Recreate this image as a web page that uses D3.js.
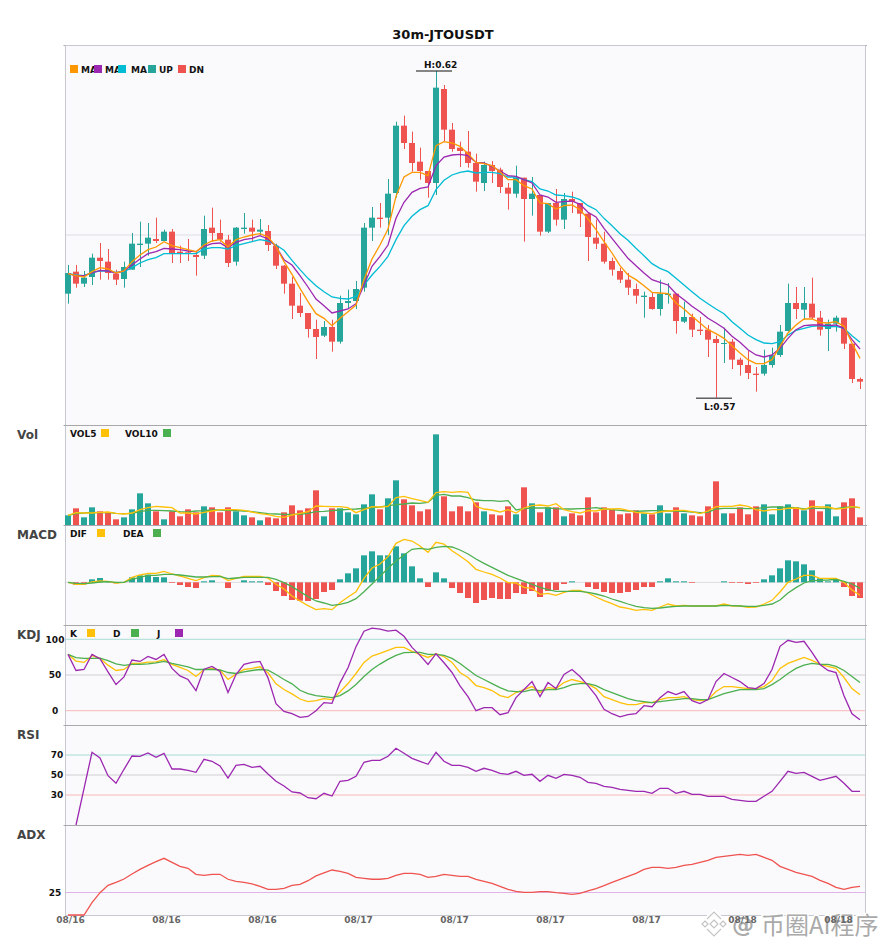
<!DOCTYPE html>
<html>
<head>
<meta charset="utf-8">
<script src="https://cdn.jsdelivr.net/npm/d3@7"></script>
<style>
html, body { margin: 0; padding: 0; background: #fff; }
text { font-family: "DejaVu Sans", sans-serif; font-weight: bold; }
</style>
</head>
<body>
<script>
// prices are kept in units of 0.0001 USDT
const open = [5866,5899,5881,5891,5920,5914,5896,5888,5902,5939,5941,5948,5945,5959,5929,5928,5924,5923,5965,5957,5947,5914,5963,5965,5959,5960,5938,5908,5881,5848,5837,5813,5803,5816,5794,5852,5855,5875,5965,5980,5980,6017,6118,6092,6064,6050,6032,6173,6112,6085,6079,6062,6032,6059,6052,6025,6016,6040,6008,6014,5959,6002,5977,6008,6002,5986,5950,5941,5915,5900,5887,5873,5861,5861,5843,5864,5866,5824,5831,5812,5812,5798,5791,5794,5767,5759,5746,5746,5759,5774,5810,5852,5842,5851,5830,5813,5821,5830,5791,5738]
const close = [5897,5881,5890,5920,5915,5897,5887,5906,5941,5941,5950,5945,5959,5927,5927,5927,5921,5963,5957,5947,5912,5965,5965,5959,5962,5939,5908,5881,5848,5837,5813,5801,5816,5794,5852,5855,5873,5965,5980,5978,6016,6118,6092,6062,6050,6032,6175,6112,6083,6080,6062,6034,6059,6050,6026,6016,6040,6008,6016,5959,6002,5977,6008,6004,5986,5951,5941,5914,5902,5887,5875,5863,5863,5843,5866,5866,5825,5831,5812,5810,5797,5792,5792,5767,5759,5747,5744,5759,5774,5809,5852,5843,5852,5830,5812,5821,5830,5791,5738,5734]
const high = [5909,5909,5900,5926,5942,5933,5902,5914,5957,5974,5972,5980,5962,5963,5938,5948,5929,5983,5995,5977,5954,5966,5987,5977,5978,5969,5941,5909,5891,5867,5837,5827,5825,5827,5863,5872,5885,5972,5996,6002,6038,6124,6133,6109,6085,6050,6200,6179,6122,6094,6110,6076,6064,6065,6055,6032,6058,6040,6041,6014,6002,6023,6017,6019,6002,5987,5977,5959,5920,5905,5897,5881,5869,5867,5887,5882,5866,5854,5836,5831,5819,5803,5815,5798,5770,5780,5756,5782,5785,5819,5881,5876,5876,5890,5840,5827,5833,5830,5791,5740]
const low = [5851,5875,5876,5879,5887,5887,5879,5875,5902,5906,5923,5942,5945,5912,5912,5915,5893,5918,5944,5944,5906,5908,5956,5944,5954,5930,5903,5866,5828,5831,5800,5768,5801,5779,5791,5843,5843,5869,5945,5965,5954,6010,6083,6049,6037,6010,6014,6095,6079,6056,6055,6019,6020,6032,6017,5992,6010,5944,5983,5953,5957,5968,5963,5987,5966,5915,5933,5911,5893,5882,5864,5851,5830,5842,5833,5851,5806,5822,5801,5804,5771,5710,5762,5753,5743,5738,5719,5743,5755,5771,5809,5828,5827,5828,5803,5780,5809,5783,5732,5723]
const ma5 = [5896,5893,5891,5899,5905,5903,5897,5900,5914,5924,5932,5936,5944,5938,5935,5932,5929,5939,5945,5947,5936,5947,5951,5954,5956,5951,5937,5914,5895,5874,5854,5836,5829,5818,5829,5839,5849,5887,5918,5939,5963,6012,6041,6048,6048,6043,6088,6094,6092,6087,6076,6063,6061,6058,6049,6037,6037,6028,6023,6002,6001,5993,5998,5999,5992,5978,5962,5944,5927,5908,5894,5887,5878,5868,5867,5866,5852,5843,5832,5822,5812,5806,5799,5788,5777,5767,5761,5761,5767,5787,5807,5819,5828,5828,5823,5822,5824,5817,5792,5769]
const ma10 = [5896,5893,5893,5897,5901,5900,5897,5900,5909,5918,5926,5929,5934,5933,5932,5930,5929,5937,5941,5942,5935,5943,5947,5949,5953,5948,5937,5917,5909,5893,5876,5858,5848,5837,5840,5843,5851,5879,5907,5922,5939,5979,6003,6018,6024,6026,6058,6071,6074,6075,6073,6063,6062,6057,6050,6043,6042,6037,6032,6014,6011,6003,6004,6005,6000,5988,5981,5964,5949,5934,5919,5908,5897,5887,5883,5879,5866,5857,5847,5839,5829,5822,5814,5802,5793,5782,5774,5771,5774,5784,5799,5812,5818,5819,5819,5818,5819,5814,5797,5783]
const ma20 = [5896,5894,5893,5898,5900,5900,5898,5899,5905,5912,5917,5920,5926,5926,5926,5926,5926,5933,5935,5935,5933,5938,5941,5944,5947,5945,5939,5931,5916,5902,5889,5878,5869,5861,5859,5858,5862,5879,5894,5907,5922,5947,5968,5982,5992,5998,6022,6036,6044,6048,6050,6047,6048,6048,6046,6041,6041,6037,6034,6023,6020,6014,6013,6011,6007,5998,5992,5979,5968,5956,5946,5934,5923,5911,5904,5899,5889,5879,5869,5859,5851,5843,5836,5824,5814,5804,5797,5792,5791,5794,5804,5811,5814,5817,5818,5816,5817,5814,5803,5793]
const volume = [29,50,23,53,41,38,17,23,47,95,65,41,17,41,26,47,38,56,53,38,53,41,29,23,14,23,20,38,59,44,50,104,26,50,50,38,32,62,92,47,80,134,77,59,41,47,272,86,41,56,41,68,41,32,29,56,32,113,65,38,53,53,26,35,29,83,38,53,47,32,35,44,35,32,59,35,53,35,29,26,56,131,35,35,53,32,56,62,32,56,62,53,44,74,41,62,26,68,80,23]
const vol5 = [29,37,36,36,38,39,35,33,36,46,52,56,54,52,36,36,33,38,42,46,46,46,44,39,34,31,26,23,30,35,40,57,56,55,55,52,37,46,55,54,56,82,86,79,74,68,97,100,98,100,98,56,48,45,39,46,36,51,58,60,57,64,46,40,36,43,42,48,48,49,44,38,36,34,39,42,44,44,40,34,42,55,56,56,60,56,46,42,46,46,50,51,46,56,54,54,48,50,55,52]
const vol10 = [29,34,36,38,37,37,35,34,35,40,44,44,43,42,40,39,42,43,45,45,44,43,42,40,37,34,33,32,32,32,35,40,41,43,45,47,48,50,52,54,58,61,63,66,65,68,89,92,87,87,82,75,73,73,71,73,45,49,51,51,51,49,48,48,49,50,52,48,46,44,42,41,42,43,43,42,42,41,39,37,38,48,50,50,50,49,50,52,54,54,53,52,48,50,50,49,49,53,54,52]
const macdHist = [0,-7,-6,9,13,1,-3,0,15,21,23,16,15,-2,-8,-14,-17,3,6,0,-17,0,6,3,3,-8,-26,-41,-53,-55,-56,-50,-29,-23,9,27,42,81,93,81,81,108,87,48,12,-14,30,12,-17,-32,-47,-62,-53,-47,-50,-50,-32,-35,-26,-44,-26,-23,-5,3,0,-14,-20,-29,-32,-32,-29,-23,-14,-14,3,12,3,3,-2,0,0,0,3,-2,-2,-5,-2,9,21,42,66,63,54,36,12,3,9,-14,-41,-47]
const dif = [0,-6,-6,1,4,3,-2,0,15,22,27,27,33,25,19,12,5,14,21,19,5,12,18,18,18,13,-6,-20,-41,-56,-70,-82,-79,-82,-61,-44,-28,12,43,55,77,117,129,124,109,90,120,115,95,79,62,39,31,24,13,-1,-2,-15,-18,-36,-33,-39,-30,-24,-24,-32,-44,-55,-64,-74,-78,-84,-81,-84,-74,-65,-71,-69,-71,-71,-71,-71,-65,-71,-71,-75,-74,-65,-54,-29,0,10,21,21,12,12,12,0,-23,-39]
const dea = [0,-3,-4,-2,1,2,0,0,9,15,21,21,24,24,22,19,16,16,17,18,11,13,15,15,15,15,9,-1,-13,-28,-43,-56,-62,-69,-66,-60,-49,-28,-5,18,42,64,82,99,102,99,105,108,106,97,85,70,57,45,33,21,12,3,-6,-15,-22,-27,-27,-27,-27,-30,-35,-41,-50,-57,-65,-72,-76,-78,-77,-74,-72,-71,-71,-71,-71,-71,-69,-70,-71,-72,-72,-69,-65,-53,-32,-16,-2,5,6,7,9,3,-5,-18]
const kdjK = [78.9,69.5,67.6,77,73.2,63.8,56.3,57.7,66.2,66.2,68,68.5,71.4,64.8,60.6,56.3,47.9,57.7,59.2,56.8,43.7,51.2,57.7,59.2,61.5,53.1,37.6,29.6,23.5,16.4,12.7,14.1,16.9,15.5,26.3,38,52.1,67.6,76.5,80.3,84.5,88.7,88.7,83.1,78.9,74.6,79.8,75.6,67.6,53.5,46.5,35.2,32.4,28.2,21.1,18.3,25.4,29.6,33.8,25.4,32.4,31,39.4,43.7,40.8,37.6,31,19.7,15.5,11.3,8.5,8.5,11.3,11.3,15.5,18.3,18.3,19.7,15.5,14.1,15.5,26.8,33.8,33.8,32.4,31,31,33.8,42.3,59.2,66.2,70.4,74.6,70.4,64.8,62,59.2,46.5,31,22.5]
const kdjD = [78.9,74.2,73.2,73.2,73.7,70,65.7,63.4,64.8,64.8,65.7,67.1,69,66.2,63.8,61.5,57.7,57.7,57.7,57.3,53.5,52.1,54.5,56.3,57.7,56.8,50.7,43.7,37.6,28.6,23.9,21.1,19.7,18.3,21.1,27.7,36.6,47.9,57.7,65.3,71.8,77.5,81.2,81.7,81.7,78.9,78.9,77.5,73.2,66.2,57.7,49.3,43.7,38,32.4,27.7,26.8,26.8,29.6,28.2,29.6,29.6,32.4,36.6,38,38,35.2,29.6,25.4,21.1,16.9,14.1,12.7,11.3,12.7,14.1,15.5,16.9,16.9,15.5,15.5,19.7,23.9,26.8,29.6,29.6,29.6,31,36.6,43.7,52.1,59.2,63.8,66.2,64.8,64.8,62,56.3,47.9,39.4]
const kdjJ = [78.9,56.3,57.7,78.9,72.8,54.5,36.6,47.4,70.9,69,76.1,71.8,78.9,59.2,48.8,43.7,28.2,58.2,62,54.9,25.4,50.7,64.8,67.6,69,46,9.9,-0.9,-4.2,-9.4,-8,0,11.3,10.3,39,60.1,89.7,111.3,115.5,114.1,111.3,112.7,104.2,88.7,77.5,64.8,79.8,67.1,53.5,34.7,19.7,0,4.2,4.2,-5.6,-2.8,18.3,29.6,40.8,19.7,39.4,31,50.7,57.7,47.9,35.2,21.1,1.9,-4.2,-8.5,-5.6,-4.2,7,5.6,18.3,26.8,22.5,26.8,14.1,9.9,15.5,40.8,52.1,46.5,40.8,32.4,31,38,57.7,90.1,98.6,95.8,97.2,81.7,64.8,56.3,53.5,21.1,-4.2,-12.7]
const rsi = [null,0,36.3,72.7,67,49.3,41.7,55.7,69,68.7,72,67.7,71.7,56,56,54.7,52.7,65.7,63.7,59,47,59.7,60.7,57.7,58.7,51,43.7,39,33,32,27.3,26.3,31.7,29,43.7,44.7,48.7,62.7,64.7,64.7,68.7,76.7,71.7,66.7,63.7,60.7,72.7,63.7,59.7,59.7,57.7,53.7,56.7,54.7,51.7,50.7,53.7,49.7,50.7,43.7,49.7,46.7,50.7,49.7,47.7,42.7,41.7,38.7,37.7,35.7,34.7,33.7,33.7,31.7,36.7,36.7,31.7,33.7,30.7,30.7,28.7,28.7,28.7,25.7,24.7,23.7,23.7,28.7,33.7,43.7,53.7,51.7,52.7,48.7,44.7,46.7,48.7,41.7,33.7,33.7]
const adx = [0,0,0,13.7,24.8,33,36.3,40,45.6,50.7,55.2,59.3,63,58.5,54.1,51.9,45.2,44.1,45.2,45.2,39.7,37.4,36.3,34.5,31.9,28.5,28.5,29.7,33,34.1,38.1,43.4,46.7,50,48.5,46.3,41.9,40.8,39.7,39.7,40.8,44.1,46.3,46.3,45.2,41.9,43,45.2,44.1,43,43,39.7,37.4,35.2,31.9,28.5,26.3,25.2,25.2,26,26,24.8,24.1,23,24.1,26.7,29.3,32.6,36.3,39.7,43,46.3,50.7,52.9,52.9,51.9,52.9,55.2,56.3,58.5,60.8,64.1,65.2,66.3,67.4,66.3,67.4,64.1,60.8,54.1,50.7,47.4,45.2,43,38.5,35.2,30.8,28.5,30.8,31.9]
const dateLabels = ['08/16','08/16','08/16','08/17','08/17','08/17','08/17','08/18','08/18']
const labelStep = 12

const UP = '#26a69a', DN = '#ef5350', MA5 = '#ff9800', MA10 = '#9c27b0', MA20 = '#00bcd4'
const AMBER = '#ffc107', GREEN = '#4caf50'

const width = 885, height = 950
const left = 65, right = 865
const idx = d3.range(open.length)

let svg = d3.select('body').append('svg')
  .attr('width', width)
  .attr('height', height)
  .style('display', 'block')

// same bar positions in every panel
let x = d3.scalePoint().domain(idx).range([68, 860])
const barW = 6

function makePanel(top, bottom, domain, title) {
  let y = d3.scaleLinear().domain(domain).range([bottom, top])
  let g = svg.append('g')
  g.append('rect')
    .attr('x', left + 0.5).attr('y', top + 0.5)
    .attr('width', right - left).attr('height', bottom - top)
    .attr('fill', '#fafafc')
    .attr('stroke', '#c8c8d0')
  ;[left - 1, right + 1].forEach(tx => {
    g.append('line').attr('x1', tx - 0.5).attr('x2', tx + 1).attr('y1', top + 0.5).attr('y2', top + 0.5).attr('stroke', '#aaa')
  })
  if (title) {
    g.append('text').attr('x', 17).attr('y', top + 14)
      .attr('font-size', 12).attr('fill', '#444').text(title)
    g.append('line').attr('x1', left).attr('x2', right + 1)
      .attr('y1', top + 0.5).attr('y2', top + 0.5).attr('stroke', '#a8a8ac')
  }
  return { g, y, top, bottom }
}

function drawLine(p, values, color, w) {
  let line = d3.line().defined(d => d !== null).x((d, i) => x(i)).y(d => p.y(d))
  p.g.append('path').datum(values)
    .attr('fill', 'none').attr('stroke', color)
    .attr('stroke-width', w || 1.3)
    .attr('d', line)
}

function hLine(p, v, color) {
  p.g.append('line')
    .attr('x1', left + 1).attr('x2', right)
    .attr('y1', p.y(v)).attr('y2', p.y(v))
    .attr('stroke', color).attr('stroke-width', 1)
}

function legend(p, items, offset) {
  let ly = p.top + (offset || 4)
  items.forEach(d => {
    p.g.append('text').attr('x', d.tx).attr('y', ly + 8).attr('font-size', 9).attr('fill', '#111').text(d.label)
  })
  items.forEach(d => {
    p.g.append('rect').attr('x', d.sx).attr('y', ly).attr('width', 8).attr('height', 8).attr('fill', d.color)
  })
}

function levelAxis(p, values, cx) {
  let ax = d3.axisLeft(p.y).tickValues(values).tickSize(0).tickPadding(0)
  let g = p.g.append('g').attr('transform', `translate(${cx},0)`).call(ax)
  g.select('.domain').remove()
  g.selectAll('text')
    .attr('text-anchor', 'middle')
    .attr('font-family', '"DejaVu Sans", sans-serif')
    .attr('font-size', 9).attr('fill', '#111')
}

// Main candles
let main = makePanel(45, 425, [0.5669, 0.6239], null)
const price = v => v * 1e-4
hLine(main, d3.mean(main.y.domain()), '#dedee4')

let candle = main.g.append('g').selectAll('g').data(idx).join('g')
candle.append('line')
  .attr('x1', i => x(i) + 0.5).attr('x2', i => x(i) + 0.5)
  .attr('y1', i => main.y(price(high[i]))).attr('y2', i => main.y(price(low[i])))
  .attr('stroke', i => close[i] >= open[i] ? UP : DN)
candle.append('rect')
  .attr('x', i => x(i) - barW / 2)
  .attr('width', barW)
  .attr('y', i => main.y(price(Math.max(open[i], close[i]))))
  .attr('height', i => Math.max(1, Math.abs(main.y(price(open[i])) - main.y(price(close[i])))))
  .attr('fill', i => close[i] >= open[i] ? UP : DN)

drawLine(main, ma20.map(price), MA20)
drawLine(main, ma10.map(price), MA10)
drawLine(main, ma5.map(price), MA5)

legend(main, [
  { label: 'MA', tx: 81, sx: 70, color: MA5 },
  { label: 'MA', tx: 105, sx: 94, color: MA10 },
  { label: 'MA', tx: 131, sx: 118, color: MA20 },
  { label: 'UP', tx: 159, sx: 148, color: UP },
  { label: 'DN', tx: 189, sx: 178, color: DN }
], 20)

// high / low markers
const hiIdx = d3.maxIndex(high), loIdx = d3.minIndex(low)
function marker(i, yLine, yText, label) {
  main.g.append('line').attr('x1', x(i) - 20).attr('x2', x(i) + 16)
    .attr('y1', yLine).attr('y2', yLine).attr('stroke', '#111')
  main.g.append('text').attr('x', x(i) - 12).attr('y', yText)
    .attr('font-size', 9).attr('fill', '#111').text(label)
}
marker(hiIdx, main.y(price(high[hiIdx])), main.y(price(high[hiIdx])) - 3, 'H:' + price(high[hiIdx]).toFixed(2))
marker(loIdx, main.y(price(low[loIdx])) + 0.5, main.y(price(low[loIdx])) + 12, 'L:' + price(low[loIdx]).toFixed(2))

// Vol
let vol = makePanel(425, 525, [0, 300], 'Vol')
vol.g.append('g').selectAll('rect').data(idx).join('rect')
  .attr('x', i => x(i) - barW / 2).attr('width', barW)
  .attr('y', i => vol.y(volume[i]))
  .attr('height', i => vol.y(0) - vol.y(volume[i]))
  .attr('fill', i => close[i] >= open[i] ? UP : DN)
drawLine(vol, vol10, GREEN)
drawLine(vol, vol5, AMBER)
legend(vol, [
  { label: 'VOL5', tx: 70, sx: 101, color: AMBER },
  { label: 'VOL10', tx: 125, sx: 163, color: GREEN }
])

// MACD
let macd = makePanel(525, 625, [-128, 172], 'MACD')
hLine(macd, 0, '#dcdce0')
macd.g.append('g').selectAll('rect').data(idx).join('rect')
  .attr('x', i => x(i) - barW / 2).attr('width', barW)
  .attr('y', i => macd.y(Math.max(0, macdHist[i])))
  .attr('height', i => Math.abs(macd.y(macdHist[i]) - macd.y(0)))
  .attr('fill', i => macdHist[i] >= 0 ? UP : DN)
drawLine(macd, dif, AMBER)
drawLine(macd, dea, GREEN)
legend(macd, [
  { label: 'DIF', tx: 70, sx: 97, color: AMBER },
  { label: 'DEA', tx: 123, sx: 153, color: GREEN }
])

// KDJ
let kdj = makePanel(625, 725, [-20, 120], 'KDJ')
hLine(kdj, 100, '#a8dcd7')
hLine(kdj, 50, '#d0d0d4')
hLine(kdj, 0, '#f8b8b6')
drawLine(kdj, kdjK, AMBER)
drawLine(kdj, kdjD, GREEN)
drawLine(kdj, kdjJ, MA10)
levelAxis(kdj, [0, 50, 100], 55)
legend(kdj, [
  { label: 'K', tx: 70, sx: 87, color: AMBER },
  { label: 'D', tx: 113, sx: 131, color: GREEN },
  { label: 'J', tx: 157, sx: 175, color: MA10 }
])

// RSI
let rsiP = makePanel(725, 825, [0, 100], 'RSI')
hLine(rsiP, 70, '#a8dcd7')
hLine(rsiP, 50, '#d0d0d4')
hLine(rsiP, 30, '#f8b8b6')
drawLine(rsiP, rsi, MA10)
levelAxis(rsiP, [30, 50, 70], 57)

// ADX
let adxP = makePanel(825, 915, [0, 100], 'ADX')
hLine(adxP, 25, '#e0b4e8')
drawLine(adxP, adx, DN)
levelAxis(adxP, [25], 55)

// title
svg.append('text').attr('x', 443).attr('y', 39)
  .attr('text-anchor', 'middle').attr('font-size', 13).attr('fill', '#111')
  .text('30m-JTOUSDT')

// watermark, white halo with thin grey glyphs
let mark = svg.append('g')
const diamond = (cx, cy, r) => `M${cx},${cy - r}L${cx + r},${cy}L${cx},${cy + r}L${cx - r},${cy}Z`
const chevron = (cx, cy, r, s) => `M${cx - r},${cy + s * r}L${cx},${cy}L${cx + r},${cy + s * r}`
const logo = [
  diamond(714, 924, 4), diamond(705, 924, 3), diamond(723, 924, 3),
  chevron(714, 912, 7, 1), chevron(714, 936, 7, -1)
]
logo.forEach(d => {
  mark.append('path').attr('d', d).attr('fill', 'none').attr('stroke', '#fff').attr('stroke-width', 5)
})
logo.forEach(d => {
  mark.append('path').attr('d', d).attr('fill', '#fff').attr('stroke', '#c4c4c4').attr('stroke-width', 1.2)
})
mark.append('text').attr('x', 732).attr('y', 932)
  .attr('font-size', 22).attr('font-weight', 'normal')
  .attr('fill', '#aaa').attr('stroke', '#fff').attr('stroke-width', 2.5)
  .style('paint-order', 'stroke')
  .text('@')
mark.append('text').attr('x', 761).attr('y', 934)
  .style('font-family', '"Noto Sans CJK SC", sans-serif')
  .style('font-weight', 'normal')
  .attr('font-size', 24)
  .attr('fill', '#aaa').attr('stroke', '#fff').attr('stroke-width', 2.5)
  .style('paint-order', 'stroke')
  .text('币圈AI程序')

// date axis, kept above the watermark
const tickIdx = idx.filter(i => i % labelStep === 0)
let xAxis = d3.axisBottom(x)
  .tickValues(tickIdx)
  .tickSize(0).tickPadding(0)
  .tickFormat((d, i) => dateLabels[i])
let xg = svg.append('g').attr('transform', 'translate(2,917)').call(xAxis)
xg.select('.domain').remove()
xg.selectAll('text')
  .attr('font-family', '"DejaVu Sans", sans-serif')
  .attr('font-size', 9).attr('fill', '#666')
</script>
</body>
</html>
